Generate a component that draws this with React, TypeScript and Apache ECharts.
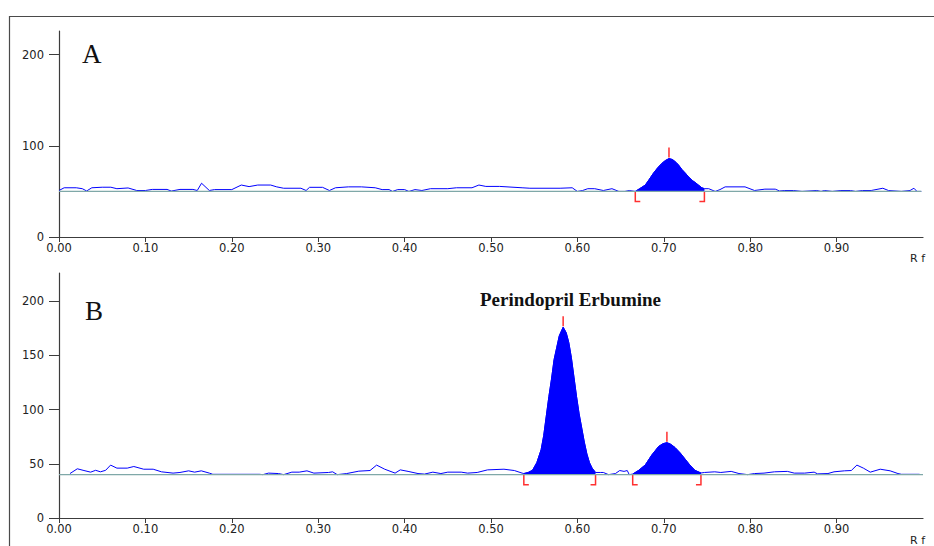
import React, { useEffect, useRef } from "react";
import * as echarts from "echarts";

// ---------- data (Rf, signal) ----------
const xTickValues = [0, 0.1, 0.2, 0.3, 0.4, 0.5, 0.6, 0.7, 0.8, 0.9];
const yTicksA = [0, 100, 200];
const yTicksB = [0, 50, 100, 150, 200];

const baselineA = 50;
const baselineB = 40;

const noiseA1 = [
  [0.0, 51], [0.006, 54], [0.02, 54], [0.027, 53], [0.032, 50.5], [0.038, 54], [0.05, 54.6], [0.06, 54.6],
  [0.067, 53], [0.08, 53.8], [0.09, 51], [0.1, 51], [0.108, 52.2], [0.125, 52.2], [0.13, 50.4], [0.14, 52.2],
  [0.155, 52.2], [0.16, 51], [0.165, 59], [0.174, 51], [0.18, 52], [0.2, 52], [0.211, 57], [0.22, 55.3],
  [0.23, 57], [0.245, 57], [0.252, 55], [0.26, 53.5], [0.28, 53.5], [0.286, 51], [0.29, 54.5], [0.305, 54.5],
  [0.313, 51], [0.32, 54], [0.335, 55], [0.35, 55], [0.366, 54], [0.374, 52], [0.382, 52], [0.386, 50],
  [0.392, 52], [0.4, 52], [0.405, 50], [0.412, 52], [0.42, 51], [0.43, 53], [0.45, 53], [0.46, 54],
  [0.478, 54], [0.486, 57], [0.494, 55.5], [0.51, 55.5], [0.536, 54], [0.545, 53.5], [0.58, 53.5],
  [0.594, 54], [0.6, 50], [0.606, 51], [0.612, 53], [0.62, 53], [0.63, 51], [0.64, 53], [0.648, 50],
  [0.655, 50], [0.66, 51], [0.667, 50],
];
const peakA = [
  [0.667, 50], [0.672, 53], [0.6786, 57], [0.683, 63], [0.688, 70], [0.693, 76], [0.698, 81], [0.702, 84],
  [0.706, 86], [0.71, 85], [0.714, 82], [0.717, 79], [0.721, 74], [0.725, 70], [0.7286, 66], [0.733, 62],
  [0.736, 60], [0.74, 57], [0.744, 54], [0.747, 53],
];
const noiseA2 = [
  [0.747, 53], [0.752, 53], [0.7595, 50], [0.765, 52], [0.771, 55], [0.794, 55], [0.805, 51], [0.817, 52.5],
  [0.829, 52.5], [0.834, 50.5], [0.84, 51], [0.85, 51], [0.86, 50], [0.877, 51], [0.882, 50], [0.886, 51],
  [0.895, 50], [0.905, 51], [0.916, 51], [0.922, 50], [0.93, 51], [0.94, 51], [0.9535, 53.5], [0.96, 51],
  [0.975, 50], [0.985, 51], [0.9895, 53.5], [0.993, 50], [0.998, 50],
];

const noiseB1 = [
  [0.0127, 41], [0.0212, 45.4], [0.0289, 43.8], [0.0366, 42.3], [0.0424, 44], [0.048, 42.6], [0.054, 44],
  [0.0597, 48.8], [0.067, 46], [0.079, 46], [0.0866, 47.5], [0.098, 45], [0.109, 45], [0.1186, 42.6],
  [0.132, 41.4], [0.14, 42], [0.15, 43.5], [0.157, 42.3], [0.1647, 43.5], [0.174, 41.4], [0.178, 40.3],
  [0.232, 40.3], [0.236, 40], [0.2425, 41.4], [0.254, 41], [0.26, 40], [0.2695, 42.3], [0.278, 42.3],
  [0.287, 43.5], [0.295, 41.4], [0.312, 42], [0.3167, 42.6], [0.322, 40], [0.333, 41], [0.347, 43.2],
  [0.36, 43.8], [0.3676, 48.8], [0.377, 45], [0.389, 41.4], [0.395, 44.4], [0.404, 43], [0.4155, 41],
  [0.423, 40.5], [0.4327, 42.3], [0.442, 41], [0.45, 42.3], [0.4655, 42.3], [0.473, 41.4], [0.484, 42],
  [0.496, 44.4], [0.515, 45], [0.527, 43.8], [0.536, 41.4], [0.538, 41],
];
const peakB1 = [
  [0.538, 41], [0.543, 42], [0.548, 44], [0.553, 51], [0.558, 63], [0.561, 76], [0.564, 94], [0.567, 112],
  [0.57, 128], [0.573, 146], [0.576, 157], [0.579, 168], [0.5835, 176], [0.587, 171], [0.59, 162],
  [0.593, 148], [0.596, 130], [0.599, 112], [0.602, 96], [0.605, 83], [0.608, 70], [0.611, 59],
  [0.614, 51], [0.617, 46], [0.621, 42],
];
const noiseB2 = [
  [0.621, 42], [0.627, 42], [0.63, 42], [0.636, 40], [0.644, 41], [0.649, 43.8], [0.654, 43],
  [0.6577, 43.8], [0.66, 40], [0.664, 40.5],
];
const peakB2 = [
  [0.664, 40.5], [0.671, 44], [0.6786, 49], [0.686, 58], [0.69, 62], [0.694, 66], [0.699, 68.5],
  [0.7036, 69.5], [0.708, 68], [0.713, 65], [0.719, 60], [0.725, 54], [0.73, 49], [0.736, 44], [0.743, 41.5],
];
const noiseB3 = [
  [0.743, 41.5], [0.747, 42], [0.759, 42.6], [0.766, 42], [0.778, 43], [0.787, 41], [0.797, 40], [0.805, 41],
  [0.816, 41.4], [0.828, 42.6], [0.843, 43], [0.851, 41.4], [0.863, 41.4], [0.874, 42.3], [0.878, 40.7],
  [0.89, 41], [0.897, 42.6], [0.909, 43.5], [0.917, 43.8], [0.9235, 48.8], [0.931, 46], [0.939, 42.3],
  [0.9505, 45], [0.962, 43.5], [0.971, 41], [0.975, 40.3], [0.996, 40.3],
];

// peak marks: [apex Rf, apex signal, start Rf, end Rf, baseline]
const peakMarksA = [[0.706, 86, 0.667, 0.747, baselineA]];
const peakMarksB = [
  [0.5835, 176, 0.538, 0.621, baselineB],
  [0.7036, 69.5, 0.664, 0.743, baselineB],
];
const baselineSpanA = [[0, baselineA], [0.998, baselineA]];
const baselineSpanB = [[0, baselineB], [1, baselineB]];

const peakLabel = "Perindopril Erbumine";

// ---------- styles ----------
const AXIS = "#3c3c3c";
const BLUE = "#0000ff";
const RED = "#ff3030";
const BASE = "#7fa8a8";
const FONT = "DejaVu Sans, Verdana, sans-serif";

function concatTrace(...parts: number[][][]) {
  const out: number[][] = [];
  parts.forEach((p) => {
    p.forEach((pt) => {
      const last = out[out.length - 1];
      if (last && last[0] === pt[0]) return;
      out.push(pt);
    });
  });
  return out;
}

function markRenderer(params: any, api: any) {
  const apex = api.coord([api.value(0), api.value(1)]);
  const s = api.coord([api.value(2), api.value(4)]);
  const e = api.coord([api.value(3), api.value(4)]);
  const st = { stroke: RED, lineWidth: 1.5, fill: "none" };
  return {
    type: "group",
    children: [
      { type: "line", shape: { x1: apex[0], y1: apex[1] - 1, x2: apex[0], y2: apex[1] - 11 }, style: st },
      { type: "polyline", shape: { points: [[s[0], s[1]], [s[0], s[1] + 10], [s[0] + 5, s[1] + 10]] }, style: st },
      { type: "polyline", shape: { points: [[e[0], e[1]], [e[0], e[1] + 10], [e[0] - 5, e[1] + 10]] }, style: st },
    ],
  };
}

function xAxisDef(gridIndex: number) {
  return {
    type: "value",
    gridIndex,
    min: 0,
    max: 1,
    axisLine: { show: true, lineStyle: { color: AXIS, width: 1.2 } },
    axisTick: { show: true, length: 5, customValues: xTickValues, lineStyle: { color: AXIS } },
    axisLabel: {
      customValues: xTickValues,
      formatter: (v: number) => v.toFixed(2),
      fontSize: 11.5,
      fontFamily: FONT,
      color: "#222",
      margin: 5,
    },
    splitLine: { show: false },
  };
}

function yAxisDef(gridIndex: number, ticks: number[]) {
  return {
    type: "value",
    gridIndex,
    min: 0,
    max: 226,
    axisLine: { show: true, lineStyle: { color: AXIS, width: 1.2 } },
    axisTick: { show: true, length: 10, customValues: ticks, lineStyle: { color: AXIS } },
    axisLabel: {
      customValues: ticks,
      fontSize: 11.5,
      fontFamily: FONT,
      color: "#222",
      margin: 15,
    },
    splitLine: { show: false },
  };
}

export default function App() {
  const ref = useRef<HTMLDivElement>(null);
  useEffect(() => {
    if (!ref.current) return;
    const chart = echarts.init(ref.current, undefined, { renderer: "svg" });
    const traceA = concatTrace(noiseA1, peakA, noiseA2);
    const traceB = concatTrace(noiseB1, peakB1, noiseB2, peakB2, noiseB3);
    const lineCommon = { type: "line", showSymbol: false, symbol: "none", silent: true };
    chart.setOption({
      animation: false,
      backgroundColor: "#fff",
      grid: [
        { left: 59, right: 11, top: 31, height: 206 },
        { left: 59, right: 11, top: 273, height: 245 },
      ],
      xAxis: [xAxisDef(0), xAxisDef(1)],
      yAxis: [yAxisDef(0, yTicksA), yAxisDef(1, yTicksB)],
      series: [
        { ...lineCommon, xAxisIndex: 0, yAxisIndex: 0, data: traceA, lineStyle: { color: BLUE, width: 1 } },
        {
          ...lineCommon, xAxisIndex: 0, yAxisIndex: 0, data: peakA,
          lineStyle: { color: BLUE, width: 1 },
          areaStyle: { color: BLUE, opacity: 1, origin: baselineA },
        },
        { ...lineCommon, xAxisIndex: 0, yAxisIndex: 0, data: baselineSpanA, lineStyle: { color: BASE, width: 1.3 } },
        {
          type: "custom", xAxisIndex: 0, yAxisIndex: 0, data: peakMarksA, renderItem: markRenderer,
          encode: { x: 0, y: 1 }, clip: false, silent: true,
        },
        { ...lineCommon, xAxisIndex: 1, yAxisIndex: 1, data: traceB, lineStyle: { color: BLUE, width: 1 } },
        {
          ...lineCommon, xAxisIndex: 1, yAxisIndex: 1, data: peakB1,
          lineStyle: { color: BLUE, width: 1 },
          areaStyle: { color: BLUE, opacity: 1, origin: baselineB },
        },
        {
          ...lineCommon, xAxisIndex: 1, yAxisIndex: 1, data: peakB2,
          lineStyle: { color: BLUE, width: 1 },
          areaStyle: { color: BLUE, opacity: 1, origin: baselineB },
        },
        { ...lineCommon, xAxisIndex: 1, yAxisIndex: 1, data: baselineSpanB, lineStyle: { color: BASE, width: 1.3 } },
        {
          type: "custom", xAxisIndex: 1, yAxisIndex: 1, data: peakMarksB, renderItem: markRenderer,
          encode: { x: 0, y: 1 }, clip: false, silent: true,
        },
      ],
      graphic: [
        {
          type: "rect", silent: true,
          shape: { x: 9.5, y: 16.5, width: 940, height: 545 },
          style: { fill: "none", stroke: "#4a4a4a", lineWidth: 1.2 },
        },
        {
          type: "text", left: 82, top: 40,
          style: { text: "A", font: "27px 'Liberation Serif', 'DejaVu Serif', serif", fill: "#111" },
        },
        {
          type: "text", left: 85, top: 297,
          style: { text: "B", font: "27px 'Liberation Serif', 'DejaVu Serif', serif", fill: "#111" },
        },
        {
          type: "text", left: 480, top: 290,
          style: { text: peakLabel, font: "bold 19px 'Liberation Serif', serif", fill: "#111" },
        },
        {
          type: "text", left: 910, top: 253,
          style: { text: "R f", font: `11px ${FONT}`, fill: "#222" },
        },
        {
          type: "text", left: 910, top: 535,
          style: { text: "R f", font: `11px ${FONT}`, fill: "#222" },
        },
      ],
    });
    return () => chart.dispose();
  }, []);
  return (
    <div
      ref={ref}
      style={{ position: "fixed", left: 0, top: 0, width: 934, height: 546, background: "#fff" }}
    />
  );
}
